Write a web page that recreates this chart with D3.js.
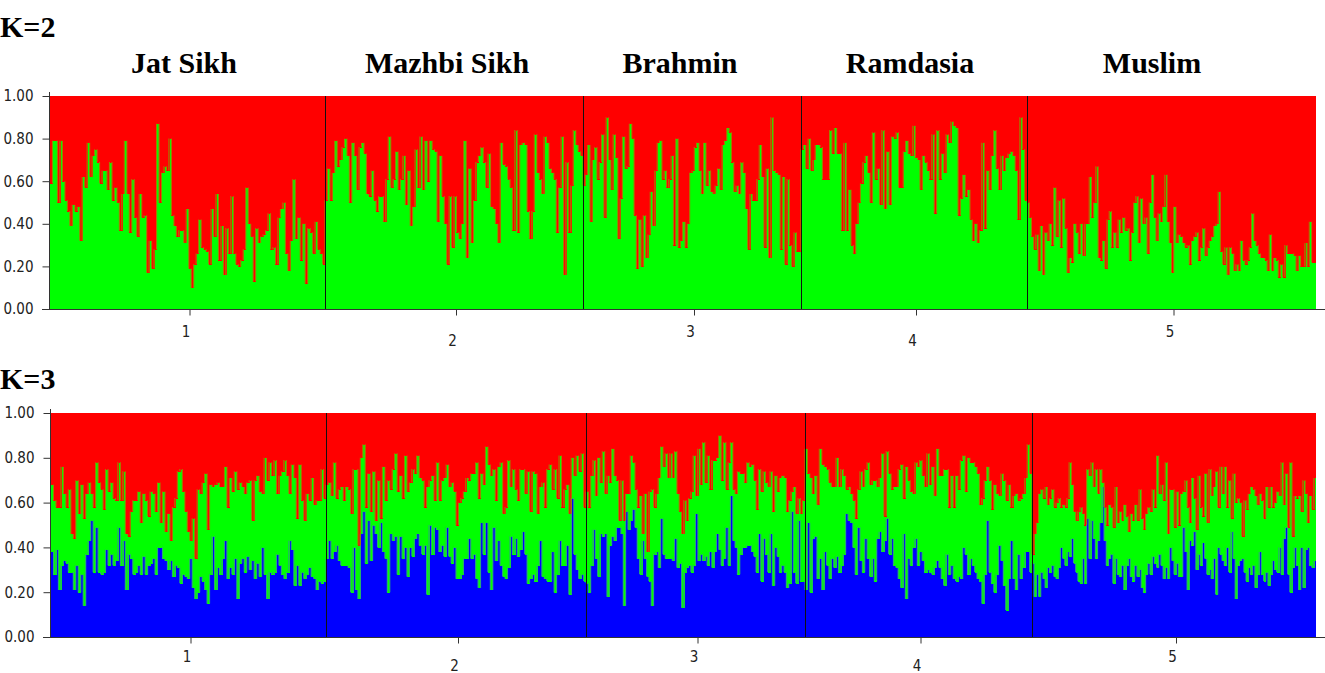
<!DOCTYPE html>
<html>
<head>
<meta charset="utf-8">
<script src="https://cdn.jsdelivr.net/npm/d3@7"></script>
<style>
  html, body { margin: 0; padding: 0; background: #fff; }
  svg { display: block; }
  .ylab, .xlab { font-family: "Liberation Sans Narrow", "DejaVu Sans Condensed", Arial, sans-serif; font-stretch: condensed; fill: #222; }
  .ttl { font-family: "Liberation Serif", "Times New Roman", serif; font-weight: bold; fill: #000; }
</style>
</head>
<body>
<svg id="chart" width="1325" height="673"></svg>
<script>
// ---------------- DATA ----------------
const populations = ["Jat Sikh", "Mazhbi Sikh", "Brahmin", "Ramdasia", "Muslim"];
const popTickLabels = ["1", "2", "3", "4", "5"];
const panelLabels = ["K=2", "K=3"];
const yTickValues = [0, 0.2, 0.4, 0.6, 0.8, 1.0];

// K=2 : membership of the green cluster per individual (red = 1 - green)
const k2GreenJatSikh = [.59,.79,.79,.50,.79,.60,.51,.46,.39,.49,.46,.48,.32,.62,.57,.78,.62,.72,.75,.69,.59,.65,.65,.56,.69,.51,.57,.50,.37,.54,.79,.54,.36,.61,.43,.34,.54,.43,.44,.17,.32,.19,.28,.87,.50,.64,.67,.65,.80,.44,.39,.34,.37,.37,.31,.47,.19,.10,.21,.26,.42,.29,.28,.27,.21,.47,.34,.54,.23,.39,.16,.38,.26,.53,.26,.21,.20,.23,.28,.57,.40,.34,.13,.38,.31,.34,.35,.37,.45,.28,.29,.21,.43,.47,.50,.26,.18,.32,.61,.33,.43,.23,.40,.12,.38,.36,.26,.41,.28,.26,.21];
const k2GreenMazhbiSikh = [.51,.66,.51,.64,.79,.67,.70,.76,.80,.72,.50,.78,.72,.56,.76,.78,.73,.54,.53,.65,.51,.46,.53,.53,.41,.61,.81,.57,.61,.74,.56,.61,.72,.49,.65,.39,.48,.75,.57,.81,.56,.79,.60,.79,.75,.74,.41,.72,.53,.40,.21,.53,.29,.53,.36,.33,.40,.79,.24,.66,.31,.51,.69,.72,.76,.69,.57,.73,.48,.47,.40,.31,.78,.68,.67,.61,.57,.37,.84,.36,.77,.78,.77,.46,.33,.46,.82,.64,.61,.54,.81,.78,.66,.64,.61,.36,.57,.81,.16,.69,.36,.58,.84,.77,.74,.72];
const k2GreenBrahmin = [.58,.63,.77,.41,.70,.76,.61,.69,.82,.43,.90,.70,.56,.82,.71,.33,.52,.81,.66,.67,.87,.80,.44,.19,.42,.20,.44,.24,.35,.55,.39,.65,.78,.79,.61,.65,.57,.61,.72,.30,.80,.29,.32,.41,.29,.40,.64,.65,.76,.78,.65,.54,.78,.58,.65,.55,.54,.58,.66,.56,.77,.79,.85,.83,.69,.55,.58,.54,.69,.64,.47,.28,.54,.51,.51,.61,.77,.62,.29,.66,.24,.90,.65,.64,.63,.28,.62,.21,.61,.30,.20,.36,.27,.27];
const k2GreenRamdasia = [.75,.77,.66,.80,.65,.70,.77,.77,.76,.61,.61,.61,.84,.73,.85,.73,.73,.37,.78,.37,.56,.30,.26,.40,.50,.59,.69,.72,.64,.50,.83,.61,.66,.49,.84,.47,.74,.49,.81,.80,.83,.57,.57,.74,.79,.73,.72,.86,.71,.70,.56,.72,.69,.65,.61,.82,.45,.84,.61,.73,.64,.82,.78,.88,.86,.85,.44,.52,.63,.53,.56,.42,.32,.40,.31,.37,.78,.38,.65,.56,.72,.84,.66,.56,.72,.65,.71,.73,.74,.72,.65,.42,.90,.75,.51];
const k2GreenMuslim = [.50,.43,.34,.28,.35,.18,.39,.16,.36,.32,.40,.30,.57,.34,.51,.29,.52,.38,.17,.24,.22,.40,.36,.26,.40,.25,.40,.40,.62,.43,.50,.67,.24,.23,.32,.19,.42,.46,.29,.36,.29,.42,.36,.43,.37,.38,.23,.36,.50,.53,.31,.52,.40,.43,.26,.50,.63,.43,.32,.45,.41,.48,.63,.41,.31,.17,.48,.31,.35,.34,.31,.29,.30,.21,.32,.34,.36,.23,.29,.38,.25,.29,.32,.34,.39,.40,.55,.27,.21,.29,.16,.29,.26,.18,.21,.18,.32,.23,.21,.23,.29,.45,.32,.30,.26,.24,.24,.23,.18,.35,.18,.24,.23,.15,.21,.15,.30,.26,.26,.26,.25,.18,.25,.20,.20,.31,.20,.41,.22,.22];

// K=3 : membership of the blue and green clusters (red = 1 - blue - green)
const k3BlueJatSikh = [.38,.28,.39,.21,.32,.34,.33,.29,.29,.21,.32,.20,.28,.14,.37,.43,.52,.29,.49,.29,.28,.29,.39,.32,.37,.32,.34,.49,.32,.43,.21,.37,.35,.28,.29,.32,.28,.36,.28,.32,.33,.35,.28,.40,.40,.35,.34,.30,.34,.27,.32,.31,.24,.28,.27,.26,.35,.22,.17,.20,.27,.25,.21,.15,.28,.45,.21,.31,.28,.35,.43,.26,.31,.28,.35,.17,.33,.35,.29,.36,.30,.34,.26,.33,.27,.40,.28,.17,.29,.28,.29,.37,.32,.28,.26,.29,.43,.39,.23,.32,.23,.29,.26,.28,.31,.27,.26,.21,.25,.24,.25];
const k3GreenJatSikh = [.30,.33,.19,.37,.44,.30,.25,.37,.17,.23,.38,.35,.40,.39,.27,.26,.12,.29,.29,.40,.38,.28,.36,.33,.32,.30,.27,.29,.29,.31,.25,.08,.21,.33,.32,.33,.23,.28,.33,.22,.32,.29,.28,.29,.11,.30,.13,.25,.09,.31,.30,.43,.51,.37,.29,.21,.08,.31,.18,.46,.37,.44,.52,.33,.40,.22,.47,.38,.39,.32,.33,.32,.40,.37,.39,.49,.36,.32,.35,.33,.40,.18,.44,.39,.38,.24,.52,.53,.49,.44,.50,.27,.40,.46,.53,.43,.21,.38,.48,.21,.54,.32,.26,.36,.30,.44,.33,.40,.36,.51,.37];
const k3BlueMazhbiSikh = [.35,.43,.35,.38,.41,.34,.32,.32,.32,.31,.20,.40,.21,.17,.46,.56,.33,.52,.34,.50,.46,.40,.51,.38,.35,.20,.46,.43,.45,.28,.45,.35,.40,.27,.40,.36,.44,.46,.41,.37,.41,.19,.50,.37,.49,.48,.38,.41,.36,.49,.36,.33,.40,.26,.26,.28,.35,.35,.44,.35,.37,.26,.22,.51,.37,.51,.29,.21,.49,.34,.43,.32,.27,.26,.31,.45,.37,.44,.36,.39,.47,.37,.24,.26,.28,.25,.32,.43,.27,.26,.25,.25,.38,.20,.28,.43,.32,.32,.41,.19,.62,.37,.30,.26,.28,.25];
const k3GreenMazhbiSikh = [.33,.26,.28,.40,.21,.32,.35,.29,.35,.35,.35,.35,.54,.24,.34,.30,.25,.21,.22,.24,.06,.30,.02,.38,.26,.50,.20,.32,.37,.37,.27,.27,.41,.38,.29,.39,.29,.35,.30,.33,.17,.48,.20,.35,.12,.30,.23,.29,.35,.28,.31,.36,.25,.24,.34,.34,.30,.36,.26,.38,.36,.52,.40,.22,.31,.34,.48,.51,.26,.27,.33,.46,.28,.32,.48,.22,.38,.22,.25,.36,.28,.27,.50,.30,.46,.48,.23,.24,.42,.32,.50,.52,.28,.55,.34,.38,.26,.34,.27,.36,.18,.35,.51,.48,.54,.33];
const k3BlueBrahmin = [.24,.20,.32,.48,.35,.27,.46,.45,.46,.18,.41,.45,.43,.49,.49,.46,.14,.56,.48,.52,.57,.49,.35,.28,.43,.35,.27,.25,.14,.37,.38,.31,.53,.37,.35,.35,.35,.34,.44,.31,.33,.13,.29,.31,.32,.29,.32,.55,.34,.37,.34,.36,.32,.38,.31,.38,.46,.39,.32,.35,.49,.32,.63,.43,.40,.28,.37,.40,.40,.41,.41,.38,.36,.29,.46,.25,.44,.37,.29,.46,.23,.40,.36,.29,.32,.29,.22,.24,.56,.29,.24,.52,.25,.25];
const k3GreenBrahmin = [.41,.38,.40,.31,.28,.53,.23,.38,.18,.54,.28,.39,.29,.21,.03,.24,.38,.08,.16,.29,.21,.17,.23,.35,.03,.29,.11,.40,.52,.21,.26,.40,.32,.39,.47,.36,.47,.37,.39,.33,.23,.33,.32,.21,.30,.36,.49,.08,.50,.31,.53,.33,.49,.28,.48,.41,.34,.51,.38,.52,.17,.46,.24,.23,.24,.46,.36,.33,.29,.37,.35,.39,.34,.28,.29,.40,.30,.32,.38,.28,.33,.32,.29,.42,.40,.42,.34,.37,.09,.38,.31,.10,.30,.36];
const k3BlueRamdasia = [.21,.51,.20,.44,.45,.26,.35,.21,.38,.32,.26,.35,.31,.36,.29,.32,.37,.55,.52,.51,.40,.28,.49,.34,.29,.44,.35,.27,.35,.25,.44,.47,.38,.43,.53,.37,.44,.32,.31,.26,.22,.46,.17,.35,.32,.40,.44,.32,.38,.34,.29,.30,.29,.28,.31,.34,.31,.26,.23,.37,.28,.32,.26,.25,.27,.26,.40,.37,.28,.35,.32,.29,.26,.25,.15,.28,.52,.29,.24,.20,.28,.41,.34,.23,.12,.26,.43,.26,.21,.37,.26,.31,.38,.38,.29];
const k3GreenRamdasia = [.63,.22,.51,.20,.27,.33,.49,.56,.38,.43,.43,.32,.36,.44,.38,.43,.35,.11,.15,.13,.21,.25,.17,.40,.38,.31,.43,.41,.35,.45,.23,.24,.44,.11,.30,.36,.22,.35,.36,.49,.55,.16,.59,.35,.33,.24,.34,.44,.41,.38,.38,.52,.39,.48,.32,.50,.41,.46,.52,.38,.30,.40,.32,.47,.39,.53,.41,.28,.52,.43,.46,.47,.47,.34,.47,.42,.24,.41,.33,.48,.36,.22,.39,.47,.49,.42,.15,.37,.43,.24,.36,.33,.33,.48,.44];
const k3BlueMuslim = [.33,.18,.28,.18,.29,.26,.22,.31,.29,.32,.27,.26,.31,.40,.35,.32,.38,.36,.44,.33,.29,.25,.24,.35,.24,.53,.35,.52,.44,.35,.43,.51,.67,.43,.32,.35,.37,.24,.35,.28,.27,.32,.21,.32,.35,.27,.25,.32,.27,.30,.22,.20,.28,.33,.28,.36,.33,.31,.37,.32,.26,.31,.26,.40,.34,.28,.33,.27,.27,.49,.38,.21,.43,.41,.47,.30,.37,.32,.42,.35,.28,.30,.26,.35,.19,.40,.37,.34,.32,.40,.29,.47,.35,.17,.32,.34,.35,.29,.25,.31,.28,.32,.22,.28,.38,.28,.25,.29,.23,.28,.34,.30,.29,.40,.28,.44,.49,.28,.20,.31,.40,.32,.21,.40,.22,.39,.40,.32,.31,.34];
const k3GreenMuslim = [.04,.28,.23,.46,.37,.36,.45,.28,.33,.34,.31,.34,.31,.18,.24,.26,.24,.42,.24,.23,.23,.31,.34,.20,.26,.22,.37,.26,.23,.40,.21,.24,.02,.15,.18,.24,.21,.25,.32,.23,.29,.20,.38,.22,.12,.28,.27,.27,.25,.36,.31,.28,.27,.25,.28,.30,.25,.50,.27,.36,.35,.47,.20,.26,.32,.21,.32,.23,.37,.16,.32,.37,.08,.30,.15,.18,.35,.26,.12,.38,.23,.45,.37,.32,.55,.18,.39,.30,.44,.18,.41,.06,.38,.43,.30,.26,.10,.32,.32,.33,.39,.34,.41,.31,.26,.33,.28,.38,.35,.39,.24,.30,.36,.23,.50,.15,.24,.21,.58,.14,.23,.30,.42,.16,.48,.25,.11,.31,.26,.37];

// ---------------- LAYOUT ----------------
const W = 1325, H = 673;
const COLORS = { red: "#ff0000", green: "#00ff00", blue: "#0000ff" };
const EDGE = { green: "#9a8400", blue: "#2aa878" }; // blended edge colours at steps
const panels = [
  { label: panelLabels[0], labelY: 37, keys: ["green", "red"],
    bounds: [50, 325, 583, 801, 1027, 1316], y0: 309, y1: 96,
    tickLabelCY: [331, 340],
    data: [
      k2GreenJatSikh.map(g => ({ green: g, red: 1 - g })),
      k2GreenMazhbiSikh.map(g => ({ green: g, red: 1 - g })),
      k2GreenBrahmin.map(g => ({ green: g, red: 1 - g })),
      k2GreenRamdasia.map(g => ({ green: g, red: 1 - g })),
      k2GreenMuslim.map(g => ({ green: g, red: 1 - g }))
    ] },
  { label: panelLabels[1], labelY: 389, keys: ["blue", "green", "red"],
    bounds: [51, 326, 586, 805, 1032, 1316], y0: 637, y1: 413,
    tickLabelCY: [656, 665],
    data: [
      [k3BlueJatSikh, k3GreenJatSikh],
      [k3BlueMazhbiSikh, k3GreenMazhbiSikh],
      [k3BlueBrahmin, k3GreenBrahmin],
      [k3BlueRamdasia, k3GreenRamdasia],
      [k3BlueMuslim, k3GreenMuslim]
    ].map(([b, g]) => b.map((v, i) => ({ blue: v, green: g[i], red: Math.max(0, 1 - v - g[i]) }))) }
];
const titleX = [184, 447, 680, 910, 1152];
const titleY = 73;

const svg = d3.select("#chart");
svg.append("rect").attr("width", W).attr("height", H).attr("fill", "#fff");

// population titles
svg.selectAll("text.ttl").data(populations).join("text")
  .attr("class", "ttl").attr("x", (d, i) => titleX[i]).attr("y", titleY)
  .attr("text-anchor", "middle").attr("font-size", 30).text(d => d);

panels.forEach(p => {
  const counts = p.data.map(a => a.length);
  const cum = [0]; counts.forEach(c => cum.push(cum[cum.length - 1] + c));
  const N = cum[cum.length - 1];
  const flat = [];
  p.data.forEach((arr, pi) => arr.forEach(d => flat.push(Object.assign({ pop: pi }, d))));

  const x = d3.scaleLinear().domain(cum).range(p.bounds);
  const y = d3.scaleLinear().domain([0, 1]).range([p.y0, p.y1]);
  const series = d3.stack().keys(p.keys)(flat);

  const g = svg.append("g");
  // panel label
  svg.append("text").attr("class", "ttl").attr("x", 0).attr("y", p.labelY)
    .attr("font-size", 30).text(p.label);

  // bars
  series.forEach(s => {
    g.append("g").attr("fill", COLORS[s.key]).attr("shape-rendering", "crispEdges")
      .selectAll("rect").data(s).join("rect")
      .attr("x", (d, i) => x(i))
      .attr("width", (d, i) => Math.min(x(i + 1) - x(i) + 0.7, x(N) - x(i)))
      .attr("y", d => y(d[1]))
      .attr("height", d => Math.max(0, y(d[0]) - y(d[1]) + 0.5));
  });

  // step edges between adjacent individuals
  series.slice(0, -1).forEach(s => {
    const edges = [];
    for (let i = 1; i < N; i++) {
      const a = s[i - 1][1], b = s[i][1];
      if (Math.abs(a - b) > 0.004) edges.push({ i, a, b });
    }
    g.append("g").attr("stroke", EDGE[s.key]).attr("stroke-width", 1.1)
      .selectAll("line").data(edges).join("line")
      .attr("x1", d => x(d.i)).attr("x2", d => x(d.i))
      .attr("y1", d => y(d.a)).attr("y2", d => y(d.b));
  });

  // population dividers
  g.append("g").attr("stroke", "#111").attr("stroke-width", 1)
    .selectAll("line").data(cum.slice(1, -1)).join("line")
    .attr("x1", d => x(d) + 0.5).attr("x2", d => x(d) + 0.5)
    .attr("y1", y(1)).attr("y2", y(0));

  // y axis
  const ya = svg.append("g").attr("transform", `translate(${p.bounds[0] - 0.5},0)`)
    .call(d3.axisLeft(y).tickValues(yTickValues).tickFormat(d3.format(".2f")).tickSize(7).tickPadding(9).tickSizeOuter(0));
  ya.select(".domain").attr("stroke", "#333").attr("d", `M0,${p.y1 - 4}V${p.y0}`);
  ya.selectAll(".tick line").attr("stroke", "#333");
  ya.selectAll(".tick text").attr("class", "ylab").attr("font-size", 15).attr("fill", "#222");

  // x axis (population numbers at group centres)
  const mids = counts.map((c, i) => (x(cum[i]) + x(cum[i + 1])) / 2 + 2);
  const xp = d3.scaleOrdinal().domain(popTickLabels).range(mids);
  const xa = svg.append("g").attr("transform", `translate(0,${p.y0 + 0.5})`)
    .call(d3.axisBottom(xp).tickSize(6).tickSizeOuter(0));
  xa.select(".domain").attr("stroke", "#333").attr("d", `M${p.bounds[0] - 8},0H${W}`);
  xa.selectAll(".tick line").attr("stroke", "#333");
  xa.selectAll(".tick text").attr("class", "xlab").attr("font-size", 15).attr("fill", "#222")
    .attr("x", -4).attr("dy", null)
    .attr("y", (d, i) => p.tickLabelCY[i % 2] - p.y0 + 5);
});
</script>
</body>
</html>
